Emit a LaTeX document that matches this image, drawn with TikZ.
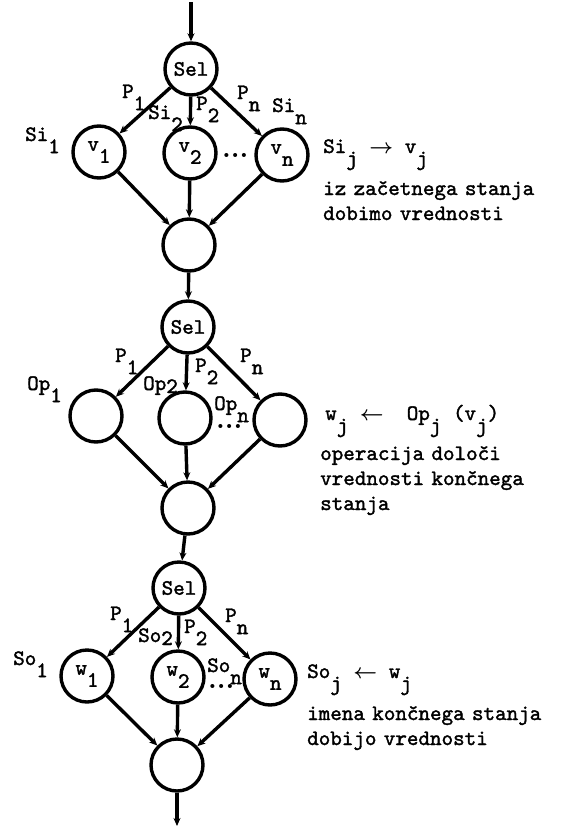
\documentclass[tikz,border=0pt]{standalone}
\usepackage{fontspec}
\usepackage{tikz}
\usetikzlibrary{arrows.meta}

\newfontfamily\tyfam{lmmono10-regular.otf}[FakeBold=1.6]
\newcommand{\tyfont}{\tyfam\fontsize{22}{25}\selectfont}
\newcommand{\lowr}[1]{\raisebox{-0.55em}{#1}}
\newcommand{\tydots}{{\rmfamily\bfseries\fontsize{28}{28}\selectfont...}}

\begin{document}
\begin{tikzpicture}[
  x=1pt, y=-1pt,
  state/.style={circle, draw, line width=3.4pt, minimum size=52pt, inner sep=0pt, font=\tyfont},
  arr/.style={-{Stealth[length=8pt, width=7pt]}, line width=3.4pt},
  lab/.style={font=\tyfont, inner sep=0pt, anchor=base west},
  note/.style={font=\tyfont, inner sep=0pt, anchor=base west, align=left, text width=270pt}
]
\useasboundingbox (0,0) rectangle (574,828);

% Block 1: initial state
\coordinate (top) at (191,2);
\node[state] (sel1) at (191,69) {Sel};
\node[state] (v1) at (99,152) {v\lowr{1}};
\node[state] (v2) at (190,153) {v\lowr{2}};
\node[state] (vn) at (282,155) {v\lowr{n}};
\node[state] (m1) at (189,245) {};

\node[lab] (si1) at (25,141) {Si\lowr{1}};
\node[lab] (p11) at (122,98) {P\lowr{1}};
\node[lab] (si2) at (148,119) {Si\lowr{2}};
\node[lab] (p12) at (196,110) {P\lowr{2}};
\node[lab] (p1n) at (237,99) {P\lowr{n}};
\node[lab] (sin) at (272,112) {Si\lowr{n}};
\node[lab] (dots1) at (222,157) {\tydots};

\node[lab] (eq1) at (323,153) {Si\lowr{j}~{\boldmath$\rightarrow$}~v\lowr{j}};
\node[note] (note1) at (323,195) {iz začetnega stanja\\dobimo vrednosti};

% Block 2: operations
\node[state] (sel2) at (188,327) {Sel};
\node[state] (op1) at (96,416) {};
\node[state] (op2) at (185,418) {};
\node[state] (opn) at (280,420) {};
\node[state] (m2) at (188,508) {};

\node[lab] (opl1) at (27,390) {Op\lowr{1}};
\node[lab] (p21) at (115,362) {P\lowr{1}};
\node[lab] (opl2) at (143,390) {Op\raisebox{-3pt}{2}};
\node[lab] (p22) at (195,372) {P\lowr{2}};
\node[lab] (p2n) at (240,362) {P\lowr{n}};
\node[lab] (opln) at (214,410) {Op\lowr{n}};
\node[lab] (dots2) at (216,428) {\tydots};

\node[lab] (eq2) at (325,420) {w\lowr{j}~{\boldmath$\leftarrow$}~~Op\lowr{j}~(v\lowr{j})};
\node[note] (note2) at (320,460) {operacija določi\\vrednosti končnega\\stanja};

% Block 3: final state
\node[state] (sel3) at (179,588) {Sel};
\node[state] (w1) at (87,676) {w\lowr{1}};
\node[state] (w2) at (178,677) {w\lowr{2}};
\node[state] (wn) at (270,679) {w\lowr{n}};
\node[state] (m3) at (177,765) {};
\coordinate (bot) at (177,826);

\node[lab] (so1) at (13,665) {So\lowr{1}};
\node[lab] (p31) at (110,620) {P\lowr{1}};
\node[lab] (so2) at (138,642) {So\raisebox{-3pt}{2}};
\node[lab] (p32) at (184,633) {P\lowr{2}};
\node[lab] (p3n) at (225,622) {P\lowr{n}};
\node[lab] (son) at (207,672) {So\lowr{n}};
\node[lab] (dots3) at (208,688) {\tydots};

\node[lab] (eq3) at (307,678) {So\lowr{j}~{\boldmath$\leftarrow$}~w\lowr{j}};
\node[note] (note3) at (307,720) {imena končnega stanja\\dobijo vrednosti};

% Connectors
\draw[arr] (top) -- (sel1);
\draw[arr] (sel1) -- (v1);
\draw[arr] (sel1) -- (v2);
\draw[arr] (sel1) -- (vn);
\draw[arr] (v1) -- (m1);
\draw[arr] (v2) -- (m1);
\draw[arr] (vn) -- (m1);
\draw[arr] (m1) -- (sel2);
\draw[arr] (sel2) -- (op1);
\draw[arr] (sel2) -- (op2);
\draw[arr] (sel2) -- (opn);
\draw[arr] (op1) -- (m2);
\draw[arr] (op2) -- (m2);
\draw[arr] (opn) -- (m2);
\draw[arr] (m2) -- (sel3);
\draw[arr] (sel3) -- (w1);
\draw[arr] (sel3) -- (w2);
\draw[arr] (sel3) -- (wn);
\draw[arr] (w1) -- (m3);
\draw[arr] (w2) -- (m3);
\draw[arr] (wn) -- (m3);
\draw[arr] (m3) -- (bot);

\end{tikzpicture}
\end{document}
